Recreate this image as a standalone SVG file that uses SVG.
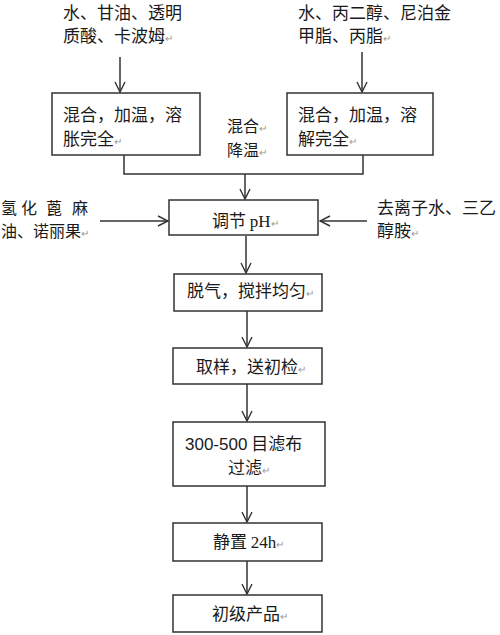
<svg xmlns="http://www.w3.org/2000/svg" width="500" height="635" viewBox="0 0 500 635">
<defs>
<marker id="arr" viewBox="0 0 12 12" refX="11" refY="6" markerWidth="12" markerHeight="12" markerUnits="userSpaceOnUse" orient="auto">
<path d="M1,1 L11,6 L1,11" fill="none" stroke="#333" stroke-width="1.4"/>
</marker>
<style>
.box{fill:#fff;stroke:#333;stroke-width:1.5}
.t{font-family:"Noto Sans CJK SC","Noto Sans",sans-serif;font-size:17px;fill:#1a1a1a}
.s{font-family:"Liberation Serif","Noto Sans CJK SC",serif}
.n{font-family:"Liberation Sans","Noto Sans CJK SC",sans-serif}
.m{font-size:10px;fill:#999}
.c{fill:none;stroke:#333;stroke-width:1.5}
</style>
</defs>
<rect width="500" height="635" fill="#fff"/>
<g id="connectors">
<line class="c" x1="120" y1="57" x2="120" y2="92" marker-end="url(#arr)"/>
<line class="c" x1="362" y1="52" x2="362" y2="92" marker-end="url(#arr)"/>
<polyline class="c" points="124,155 124,174 363,174 363,155"/>
<line class="c" x1="245" y1="174" x2="245" y2="199" marker-end="url(#arr)"/>
<line class="c" x1="100" y1="221" x2="168" y2="221" marker-end="url(#arr)"/>
<line class="c" x1="367" y1="221" x2="320" y2="221" marker-end="url(#arr)"/>
<line class="c" x1="246" y1="236" x2="246" y2="273" marker-end="url(#arr)"/>
<line class="c" x1="247" y1="311" x2="247" y2="347" marker-end="url(#arr)"/>
<line class="c" x1="247" y1="384" x2="247" y2="421" marker-end="url(#arr)"/>
<line class="c" x1="247" y1="486" x2="247" y2="522" marker-end="url(#arr)"/>
<line class="c" x1="247" y1="561" x2="247" y2="594" marker-end="url(#arr)"/>
</g>
<g id="input1">
<text class="t" x="63" y="19">水、甘油、透明</text>
<text class="t" x="63" y="42">质酸、卡波姆<tspan class="m">↵</tspan></text>
</g>
<g id="input2">
<text class="t" x="298" y="19">水、丙二醇、尼泊金</text>
<text class="t" x="298" y="42">甲脂、丙脂<tspan class="m">↵</tspan></text>
</g>
<g id="box1">
<rect class="box" x="52" y="93" width="148" height="62"/>
<text class="t" x="63" y="121">混合，加温，溶</text>
<text class="t" x="63" y="145">胀完全<tspan class="m">↵</tspan></text>
</g>
<g id="box2">
<rect class="box" x="287" y="93" width="146" height="62"/>
<text class="t" x="298" y="121">混合，加温，溶</text>
<text class="t" x="298" y="145">解完全<tspan class="m">↵</tspan></text>
</g>
<g id="label-mix">
<text class="t" x="227" y="132" style="font-size:16px">混合<tspan class="m">↵</tspan></text>
<text class="t" x="227" y="156" style="font-size:16px">降温<tspan class="m">↵</tspan></text>
</g>
<g id="input-left">
<text class="t" style="font-size:16px" y="214"><tspan x="1">氢</tspan><tspan x="21">化</tspan><tspan x="46">蓖</tspan><tspan x="72">麻</tspan></text>
<text class="t" style="font-size:16px" x="1" y="237">油、诺丽果<tspan class="m">↵</tspan></text>
</g>
<g id="input-right">
<text class="t" x="377" y="214">去离子水、三乙</text>
<text class="t" x="377" y="237">醇胺<tspan class="m">↵</tspan></text>
</g>
<g id="box-ph">
<rect class="box" x="169" y="200" width="149" height="35"/>
<text class="t" x="212" y="227">调节 <tspan class="s">pH</tspan><tspan class="m">↵</tspan></text>
</g>
<g id="box-degas">
<rect class="box" x="174" y="274" width="148" height="37"/>
<text class="t" x="187" y="297">脱气，搅拌均匀<tspan class="m">↵</tspan></text>
</g>
<g id="box-sample">
<rect class="box" x="173" y="348" width="149" height="36"/>
<text class="t" x="196" y="373">取样，送初检<tspan class="m">↵</tspan></text>
</g>
<g id="box-filter">
<rect class="box" x="173" y="422" width="152" height="64"/>
<text class="t" x="185" y="450"><tspan class="n">300-500</tspan> 目滤布</text>
<text class="t" x="228" y="474">过滤<tspan class="m">↵</tspan></text>
</g>
<g id="box-rest">
<rect class="box" x="173" y="523" width="149" height="38"/>
<text class="t" x="213" y="548">静置 <tspan class="s">24h</tspan><tspan class="m">↵</tspan></text>
</g>
<g id="box-product">
<rect class="box" x="173" y="595" width="149" height="37"/>
<text class="t" x="212" y="620">初级产品<tspan class="m">↵</tspan></text>
</g>
</svg>
